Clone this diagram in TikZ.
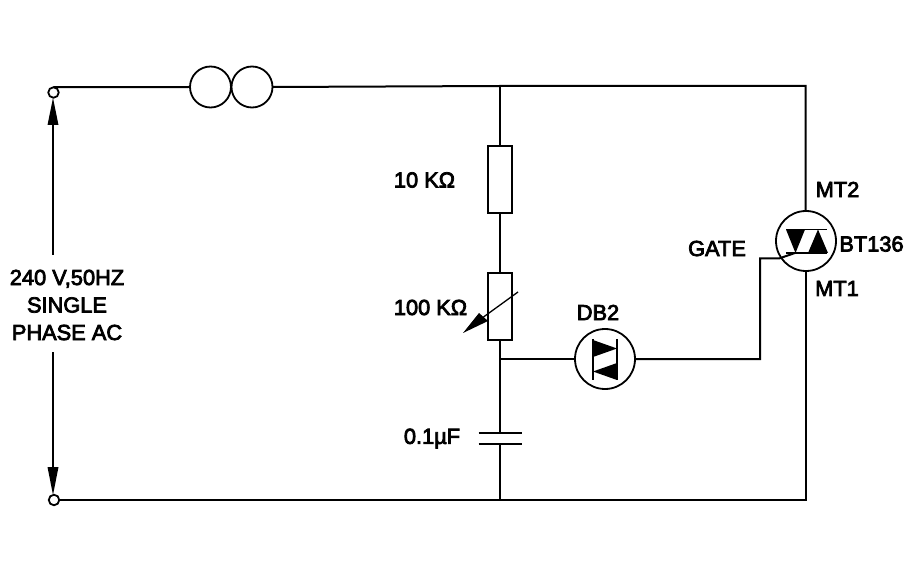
\documentclass[tikz,border=0pt]{standalone}
\usepackage{fontspec}
\setmainfont[FakeBold=3.5]{Liberation Sans}
\usetikzlibrary{calc}
\tikzset{
  wire/.style={line width=2pt,black},
  thin wire/.style={line width=1.5pt,black},
  comp/.style={draw=black,line width=1.8pt,fill=white,inner sep=0pt,outer sep=0pt},
  round comp/.style={comp,circle,minimum size=#1},
  res/.style={comp,rectangle,minimum width=23.5pt,minimum height=67pt},
  term/.style={comp,circle,minimum size=10.5pt},
  lbl/.style={font=\fontsize{21.8}{27.5}\selectfont,text=black,inner sep=0pt,align=center},
}
\begin{document}
\begin{tikzpicture}[x=1pt,y=-1pt]
\useasboundingbox (0,0) rectangle (905,569);
\fill[white] (0,0) rectangle (905,569);
% nodes
\node[term] (tt) at (53.5,92.5) {};
\node[term] (tb) at (54,500) {};
\node[round comp=41pt] (f1) at (210.5,87) {};
\node[round comp=41pt] (f2) at (252,87) {};
\node[res] (r1) at (500,179.5) {};
\node[res] (r2) at (500,306.5) {};
\node[round comp=60pt] (diac) at (605,359) {};
\node[round comp=60pt] (triac) at (806,241) {};
\coordinate (ntop) at (500,86);
\coordinate (jn) at (500,359);
\coordinate (nbot) at (500,500);
\coordinate (tr) at (805.5,86);
\coordinate (br) at (805.5,500);
\coordinate (c1) at (500,433);
\coordinate (c2) at (500,444);
\coordinate (cor1) at (760,359);
\coordinate (cor2) at (760,258.5);
\coordinate (cor3) at (779,258.5);
\coordinate (gt) at (795,253);
\coordinate (al1) at (53,255);
\coordinate (al2) at (53,352);
\coordinate (aa) at (53,98);
\coordinate (ab) at (53,495);
% wires
\draw[wire] (tt.north) -- (f1.west);
\draw[wire] (f2.east) -- (ntop) -- (tr) -- (triac.north -| tr);
\draw[wire] (triac.south -| br) -- (br) -- (nbot) -- (tb.east);
\draw[wire] (ntop) -- (r1.north);
\draw[wire] (r1.south) -- (r2.north);
\draw[wire] (r2.south) -- (jn) -- (c1);
\draw[wire] (c2) -- (nbot);
\draw[wire] (jn) -- (diac.west);
\draw[wire] (diac.east) -- (cor1) -- (cor2) -- (cor3) -- (gt);
% capacitor
\draw[line width=1.7pt] ($(c1)+(-21.5,0)$) -- ($(c1)+(21.5,0)$);
\draw[line width=1.7pt] ($(c2)+(-21.5,0)$) -- ($(c2)+(21.5,0)$);
% voltage arrow
\draw[thin wire] (al1) -- (53,125);
\draw[thin wire] (al2) -- (53,470);
\fill (aa) -- (58.5,125) -- (47.5,125) -- cycle;
\fill (ab) -- (58.5,467) -- (47.5,467) -- cycle;
% pot arrow
\draw[line width=1.3pt] (518,292) -- (483.5,317);
\fill (463,333) -- (479,313) -- (488,321) -- cycle;
% diac symbol
\draw[line width=1.3pt] (593,339) -- (593,380);
\draw[line width=1.3pt] (617,339) -- (617,380);
\fill (593,340) -- (617,348.5) -- (593,357) -- cycle;
\fill (617,363) -- (593,371.5) -- (617,380) -- cycle;
% triac symbol
\draw[line width=1.3pt] (786,229.5) -- (827,229.5);
\draw[line width=1.3pt] (786,253) -- (827,253);
\fill (786,229.5) -- (805,229.5) -- (795.5,253) -- cycle;
\fill (808,253) -- (828,253) -- (818,229.5) -- cycle;
% labels
\node[lbl] (l1) at (67,305) {240 V,50HZ\\SINGLE\\PHASE AC};
\node[lbl] (l2) at (424.5,180) {10 KΩ};
\node[lbl] (l3) at (430.5,307.5) {100 KΩ};
\node[lbl] (l4) at (432,438.5) {0.1µF};
\node[lbl] (l5) at (598,312.5) {DB2};
\node[lbl] (l6) at (717,248.5) {GATE};
\node[lbl] (l7) at (837.5,189.5) {MT2};
\node[lbl] (l8) at (837,288.5) {MT1};
\node[lbl] (l9) at (871.5,244) {BT136};
\end{tikzpicture}
\end{document}
